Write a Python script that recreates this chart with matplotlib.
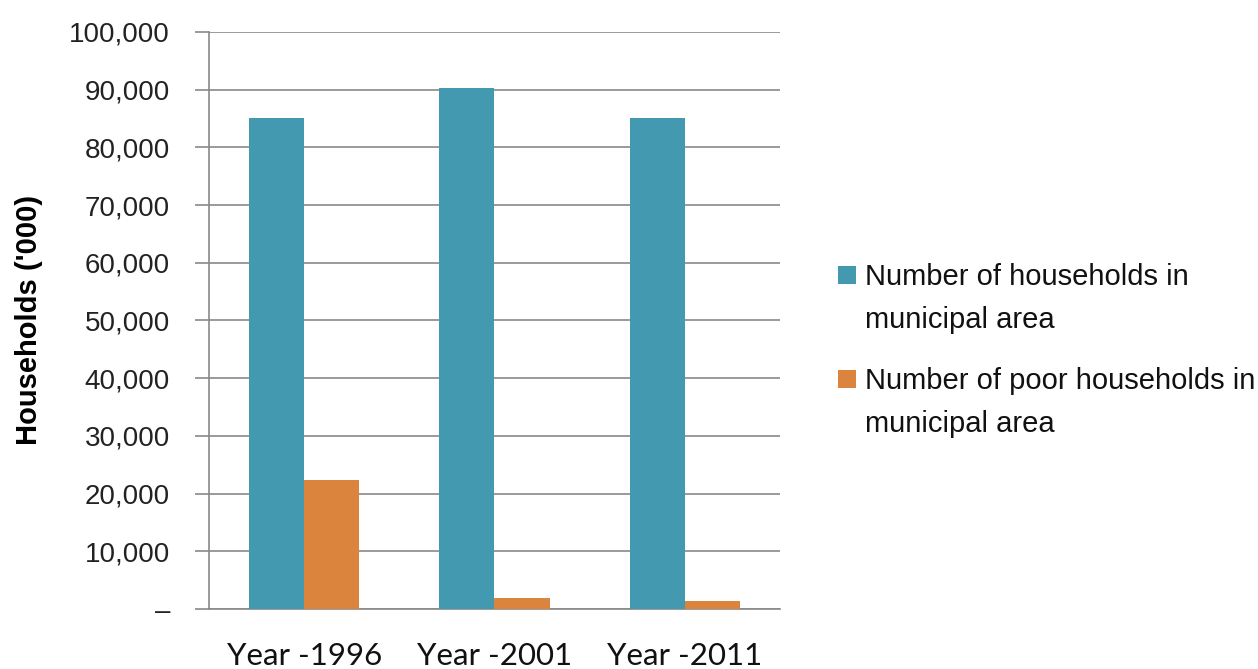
import matplotlib
matplotlib.use("Agg")
import matplotlib.pyplot as plt
import numpy as np
from matplotlib.ticker import FuncFormatter, MultipleLocator
from matplotlib.patches import Rectangle

categories = ["Year -1996", "Year -2001", "Year -2011"]
total_households = [85100, 90300, 85100]
poor_households = [22300, 1900, 1300]
series_labels = ["Number of households in\nmunicipal area",
                 "Number of poor households in\nmunicipal area"]
y_label = "Households ('000)"

teal = "#4399B0"
orange = "#DB843D"
grid_c = "#898989"

fig = plt.figure(figsize=(12.58, 6.69), dpi=100)
ax = fig.add_axes([209/1258, 1-609/669, (780-209)/1258, (609-32)/669])

x = np.arange(len(categories))
w = 0.29
ax.bar(x - w/2, total_households, w, color=teal, zorder=3)
ax.bar(x + w/2, poor_households, w, color=orange, zorder=3)

ax.set_xlim(-0.5, 2.5)
ax.set_ylim(0, 100000)
ax.yaxis.set_major_locator(MultipleLocator(10000))
ax.yaxis.set_major_formatter(FuncFormatter(lambda v, p: "–" if v == 0 else f"{int(v):,}"))
ax.grid(axis="y", color=grid_c, linewidth=1.2, zorder=0)
for s in ["top", "right"]:
    ax.spines[s].set_visible(False)
ax.spines["left"].set_color(grid_c)
ax.spines["bottom"].set_color(grid_c)
ax.spines["left"].set_linewidth(1.2)
ax.spines["bottom"].set_linewidth(1.2)
ax.tick_params(axis="y", length=10, width=1.2, color=grid_c, pad=18,
               labelsize=20, labelcolor="#222222")
ax.tick_params(axis="x", length=0, pad=24, labelsize=22.5, labelcolor="#111111")
for lab in ax.get_yticklabels():
    lab.set_fontfamily(["Liberation Sans", "DejaVu Sans"])
ax.set_xticks(x)
ax.set_xticklabels(categories, fontfamily=["Lato", "DejaVu Sans"])

fig.text(29/1258, 1-320/669, y_label, rotation=90, ha="center", va="center",
         fontsize=21, fontweight="bold",
         fontfamily=["Liberation Sans Narrow", "Liberation Sans", "DejaVu Sans"])

# legend drawn manually (square aligned with first text line)
legend_colors = [teal, orange]
legend_tops = [263, 367]
for col, lab, top in zip(legend_colors, series_labels, legend_tops):
    fig.patches.append(Rectangle((838/1258, 1-(top+21)/669), 18/1258, 18/669,
                                 transform=fig.transFigure, facecolor=col,
                                 edgecolor="none"))
    fig.text(865/1258, 1-top/669, lab, ha="left", va="top", fontsize=21,
             color="#111111", linespacing=1.68,
             fontfamily=["Liberation Sans", "DejaVu Sans"])

fig.savefig("out.png", dpi=100)
